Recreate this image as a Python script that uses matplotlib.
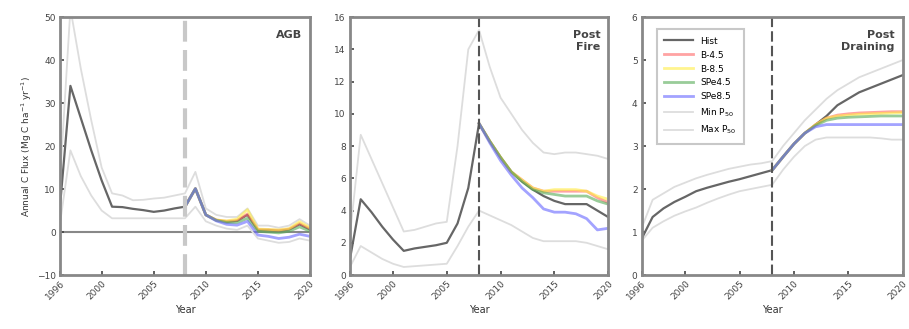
"""Annual C flux panels: AGB, post fire and post draining."""

import matplotlib

matplotlib.use("Agg")
import matplotlib.pyplot as plt

YEARS = list(range(1996, 2021))
SCEN_YEARS = list(range(2008, 2021))
DIST_YEAR = 2008
XTICKS = [1996, 2000, 2005, 2010, 2015, 2020]

LABELS = ["Hist", "B-4.5", "B-8.5", "SPe4.5", "SPe8.5", "Min P$_{50}$", "Max P$_{50}$"]

# --- AGB ---
agb_hist = [6, 34, 26.5, 19, 12, 5.9, 5.8, 5.4, 5.1, 4.7, 5.0, 5.5, 5.9,
            10.1, 4.0, 2.8, 2.4, 2.6, 4.0, 0.5, 0.5, 0.3, 0.6, 1.8, 0.6]
agb_max = [12, 52, 38, 26, 15, 9, 8.5, 7.4, 7.5, 7.8, 8.0, 8.5, 9,
           14, 5.5, 4, 3.5, 3.5, 5.5, 1.5, 1.5, 1.0, 1.5, 3.0, 1.5]
agb_min = [2, 19, 13, 8.5, 5.0, 3.2, 3.2, 3.2, 3.2, 3.2, 3.2, 3.2, 3.2,
           5.9, 2.5, 1.5, 0.8, 0.5, 1.5, -1.5, -2.0, -2.5, -2.3, -1.5, -2.0]
agb_red = [5.9, 10.1, 4.0, 2.8, 2.5, 2.7, 4.2, 0.6, 0.5, 0.4, 0.7, 2.0, 0.8]
agb_yellow = [5.9, 10.1, 4.0, 2.8, 2.6, 3.0, 5.2, 0.7, 0.6, 0.5, 0.8, 2.4, 1.0]
agb_green = [5.9, 10.1, 4.0, 2.7, 2.2, 2.2, 3.2, 0.2, 0.0, -0.2, 0.2, 1.2, 0.2]
agb_blue = [5.9, 10.1, 4.0, 2.6, 1.8, 1.6, 2.5, -0.7, -1.0, -1.5, -1.2, -0.5, -1.0]

# --- Post fire ---
fire_hist = [1.0, 4.7, 3.9, 3.0, 2.2, 1.5, 1.65, 1.75, 1.85, 2.0, 3.2, 5.4, 9.4,
             8.3, 7.3, 6.4, 5.8, 5.3, 4.9, 4.6, 4.4, 4.4, 4.4, 4.0, 3.6]
fire_max = [2.5, 8.7, 7.2, 5.7, 4.2, 2.7, 2.8, 3.0, 3.2, 3.3, 8.0, 14.0, 15.2,
            12.9, 11.0, 10.0, 9.0, 8.2, 7.6, 7.5, 7.6, 7.6, 7.5, 7.4, 7.2]
fire_min = [0.5, 1.8, 1.4, 1.0, 0.7, 0.5, 0.55, 0.6, 0.65, 0.7, 1.8, 3.0, 4.0,
            3.7, 3.4, 3.1, 2.7, 2.3, 2.1, 2.1, 2.1, 2.1, 2.0, 1.8, 1.6]
fire_red = [9.4, 8.3, 7.3, 6.4, 5.9, 5.4, 5.2, 5.2, 5.2, 5.2, 5.2, 4.8, 4.5]
fire_yellow = [9.4, 8.3, 7.3, 6.4, 5.9, 5.4, 5.2, 5.3, 5.3, 5.3, 5.2, 4.9, 4.7]
fire_green = [9.4, 8.3, 7.3, 6.4, 5.8, 5.3, 5.1, 5.0, 4.9, 4.9, 4.9, 4.6, 4.4]
fire_blue = [9.4, 8.2, 7.1, 6.2, 5.4, 4.8, 4.1, 3.9, 3.9, 3.8, 3.5, 2.8, 2.9]

# --- Post draining ---
drain_hist = [0.85, 1.35, 1.55, 1.7, 1.82, 1.95, 2.03, 2.1, 2.17, 2.23, 2.3, 2.37, 2.44,
              2.75, 3.05, 3.3, 3.5, 3.7, 3.95, 4.1, 4.25, 4.35, 4.45, 4.55, 4.65]
drain_max = [1.1, 1.75, 1.9, 2.05, 2.15, 2.25, 2.33, 2.4, 2.47, 2.52, 2.57, 2.6, 2.65,
             3.0, 3.3, 3.6, 3.85, 4.1, 4.3, 4.45, 4.6, 4.7, 4.8, 4.9, 5.0]
drain_min = [0.8, 1.1, 1.25, 1.38, 1.48, 1.57, 1.68, 1.78, 1.87, 1.95, 2.0, 2.05, 2.1,
             2.45, 2.75, 3.0, 3.15, 3.2, 3.2, 3.2, 3.2, 3.2, 3.18, 3.15, 3.15]
drain_red = [2.44, 2.75, 3.05, 3.3, 3.5, 3.65, 3.72, 3.75, 3.77, 3.78, 3.79, 3.8, 3.8]
drain_yellow = [2.44, 2.75, 3.05, 3.3, 3.5, 3.65, 3.7, 3.72, 3.74, 3.75, 3.76, 3.77, 3.78]
drain_green = [2.44, 2.75, 3.05, 3.3, 3.48, 3.6, 3.65, 3.67, 3.68, 3.69, 3.7, 3.7, 3.7]
drain_blue = [2.44, 2.75, 3.05, 3.3, 3.45, 3.5, 3.5, 3.5, 3.5, 3.5, 3.5, 3.5, 3.5]

GREY_DARK = "#666666"
GREY_LIGHT = "#dddddd"
SCEN_COLORS = ["#ff6666", "#ffee44", "#55aa55", "#6666ff"]
SPINE = "#888888"


def draw_panel(ax, hist, lo, hi, scen, ylim, yticks, title, vline_style):
    ax.plot(YEARS, hi, color=GREY_LIGHT, lw=1.3, label=LABELS[5])
    ax.plot(YEARS, lo, color=GREY_LIGHT, lw=1.3, label=LABELS[6])
    ax.plot(YEARS, hist, color=GREY_DARK, lw=1.6, label=LABELS[0])
    for vals, color, lab in zip(scen, SCEN_COLORS, LABELS[1:5]):
        ax.plot(SCEN_YEARS, vals, color=color, lw=2.0, alpha=0.6, label=lab)
    ax.axvline(DIST_YEAR, **vline_style)
    ax.set_xlim(1996, 2020)
    ax.set_ylim(*ylim)
    ax.set_yticks(yticks)
    ax.set_xticks(XTICKS)
    ax.set_xticklabels([str(t) for t in XTICKS], rotation=45, ha="right",
                       rotation_mode="anchor")
    ax.tick_params(direction="in", labelsize=6.5, colors="#444444", length=3,
                   width=1.2, pad=3)
    for s in ax.spines.values():
        s.set_color(SPINE)
        s.set_linewidth(2)
    ax.set_xlabel("Year", fontsize=7, color="#333333", labelpad=2)
    ax.text(0.97, 0.95, title, transform=ax.transAxes, ha="right", va="top",
            fontsize=8, fontweight="bold", color="#444444", linespacing=1.3)


fig = plt.figure(figsize=(9.09, 3.29), dpi=100)
ax1 = fig.add_axes([0.066, 0.164, 0.275, 0.784])
ax2 = fig.add_axes([0.385, 0.164, 0.284, 0.784])
ax3 = fig.add_axes([0.706, 0.164, 0.287, 0.784])

draw_panel(ax1, agb_hist, agb_min, agb_max,
           [agb_red, agb_yellow, agb_green, agb_blue],
           (-10, 50), range(-10, 51, 10), "AGB",
           dict(color="#c8c8c8", ls=(0, (5, 2)), lw=3))
ax1.axhline(0, color="#888888", lw=1.5, zorder=0)
ax1.set_ylabel("Annual C Flux (Mg C ha$^{-1}$ yr$^{-1}$)", fontsize=6.5,
               color="#333333", labelpad=2)

draw_panel(ax2, fire_hist, fire_min, fire_max,
           [fire_red, fire_yellow, fire_green, fire_blue],
           (0, 16), range(0, 17, 2), "Post\nFire",
           dict(color="#555555", ls=(0, (5, 2)), lw=1.5))

draw_panel(ax3, drain_hist, drain_min, drain_max,
           [drain_red, drain_yellow, drain_green, drain_blue],
           (0, 6), range(0, 7), "Post\nDraining",
           dict(color="#555555", ls=(0, (5, 2)), lw=1.5))

handles, labels = ax3.get_legend_handles_labels()
order = [labels.index(lab) for lab in LABELS]
leg = ax3.legend([handles[i] for i in order], [labels[i] for i in order],
                 loc="upper left", fontsize=6.5, frameon=True, fancybox=False,
                 handlelength=3.2, borderpad=0.8, labelspacing=0.55,
                 bbox_to_anchor=(0.04, 0.97))
leg.get_frame().set_edgecolor("#bbbbbb")
leg.get_frame().set_linewidth(1.5)

fig.savefig("out.png", dpi=100)
